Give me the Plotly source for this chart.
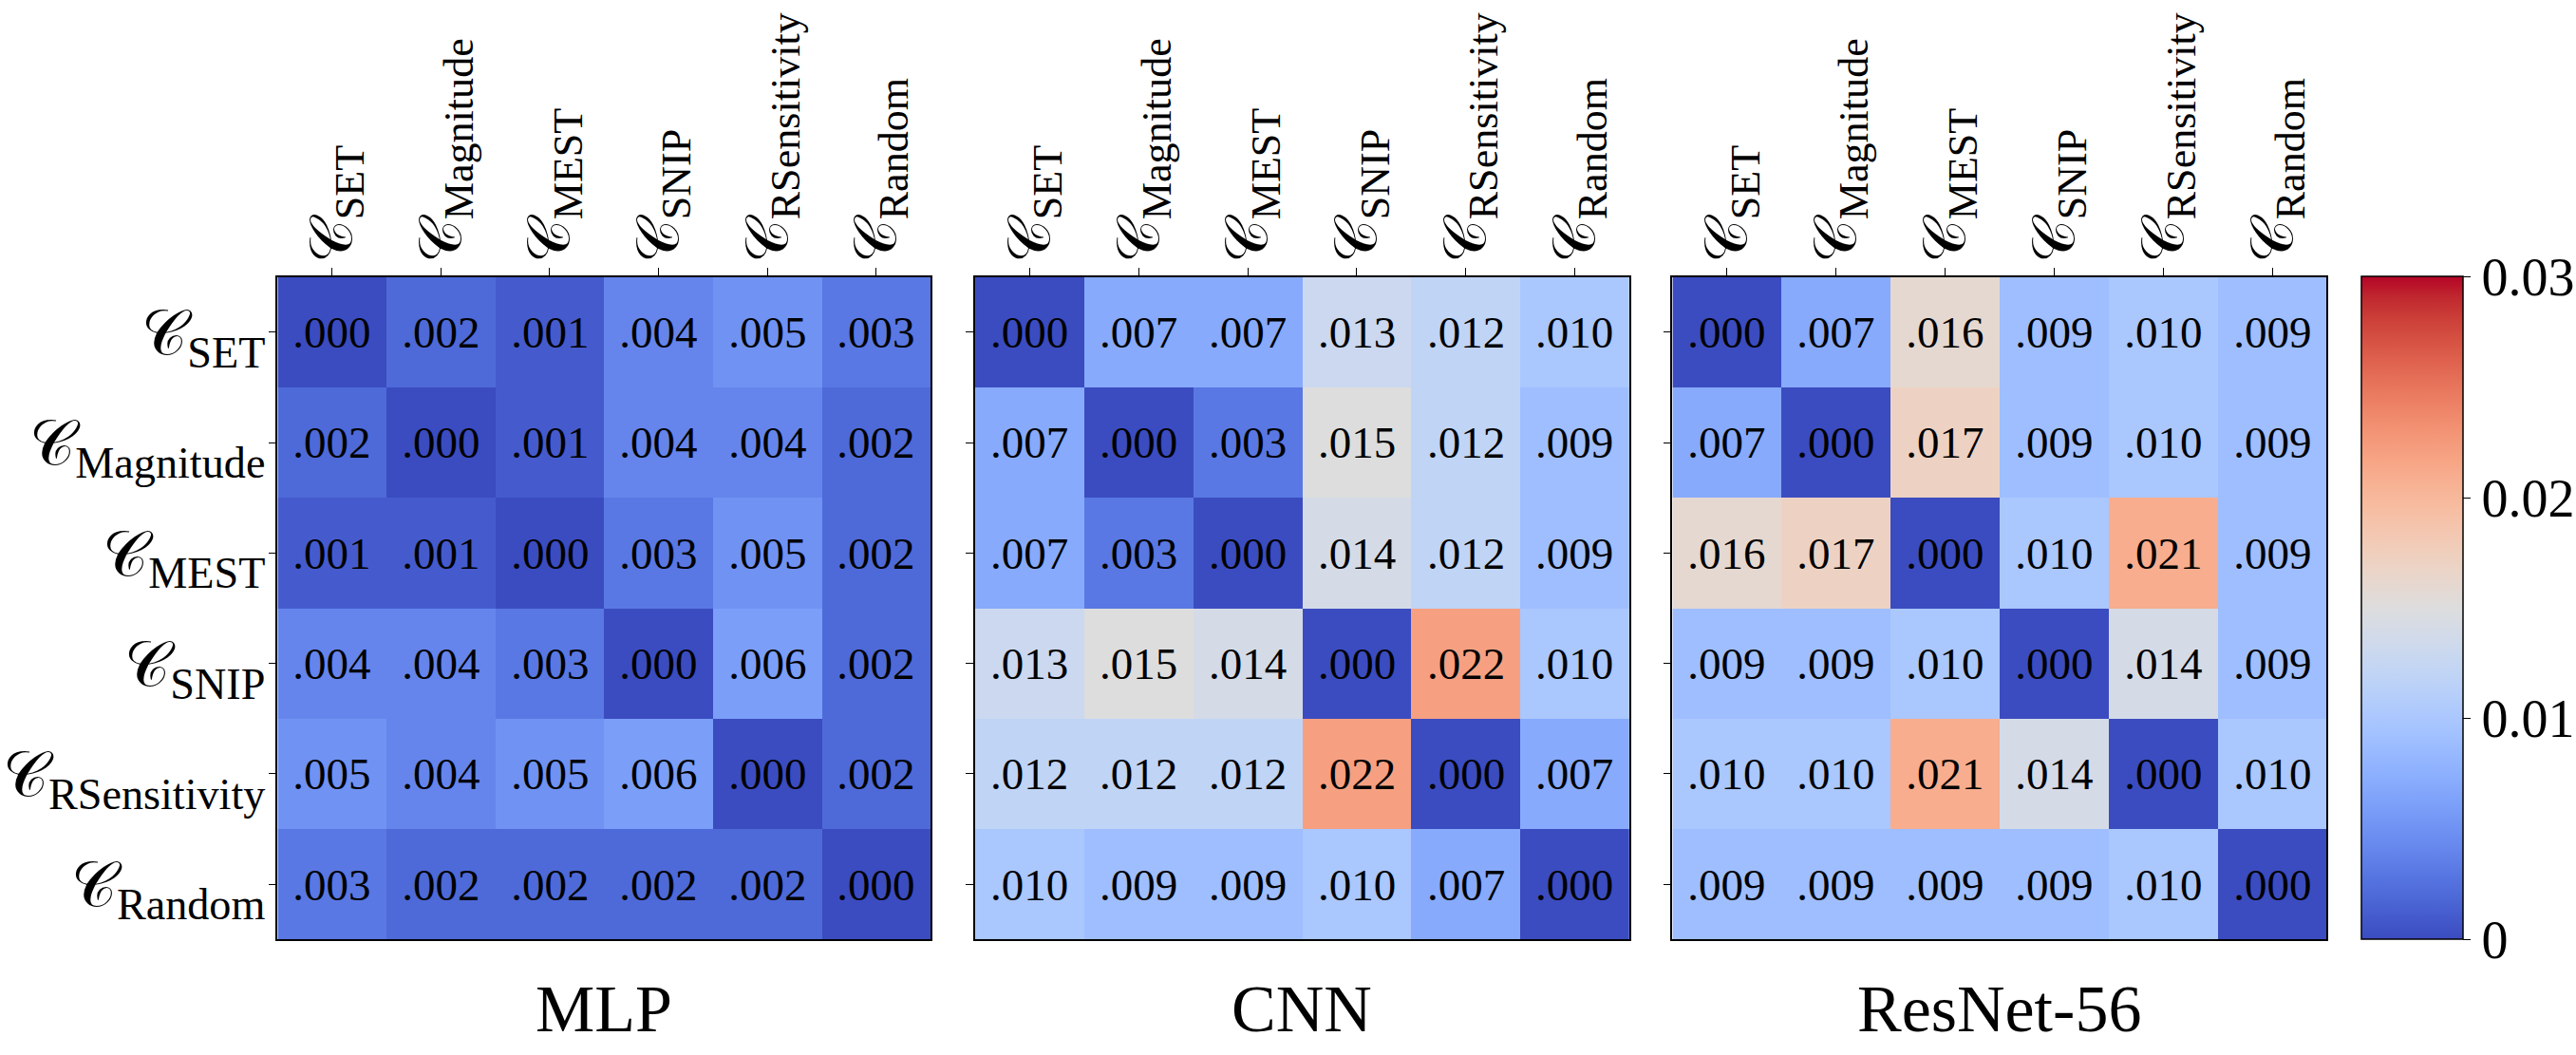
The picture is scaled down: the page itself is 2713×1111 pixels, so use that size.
import plotly.graph_objects as go

# data
methods = ['SET', 'Magnitude', 'MEST', 'SNIP', 'RSensitivity', 'Random']
models = ['MLP', 'CNN', 'ResNet-56']

mlp_dist = [
    [0.000, 0.002, 0.001, 0.004, 0.005, 0.003],
    [0.002, 0.000, 0.001, 0.004, 0.004, 0.002],
    [0.001, 0.001, 0.000, 0.003, 0.005, 0.002],
    [0.004, 0.004, 0.003, 0.000, 0.006, 0.002],
    [0.005, 0.004, 0.005, 0.006, 0.000, 0.002],
    [0.003, 0.002, 0.002, 0.002, 0.002, 0.000],
]
cnn_dist = [
    [0.000, 0.007, 0.007, 0.013, 0.012, 0.010],
    [0.007, 0.000, 0.003, 0.015, 0.012, 0.009],
    [0.007, 0.003, 0.000, 0.014, 0.012, 0.009],
    [0.013, 0.015, 0.014, 0.000, 0.022, 0.010],
    [0.012, 0.012, 0.012, 0.022, 0.000, 0.007],
    [0.010, 0.009, 0.009, 0.010, 0.007, 0.000],
]
resnet_dist = [
    [0.000, 0.007, 0.016, 0.009, 0.010, 0.009],
    [0.007, 0.000, 0.017, 0.009, 0.010, 0.009],
    [0.016, 0.017, 0.000, 0.010, 0.021, 0.009],
    [0.009, 0.009, 0.010, 0.000, 0.014, 0.009],
    [0.010, 0.010, 0.021, 0.014, 0.000, 0.010],
    [0.009, 0.009, 0.009, 0.009, 0.010, 0.000],
]
cbar_ticks = [0, 0.01, 0.02, 0.03]
cbar_labels = ['0', '0.01', '0.02', '0.03']

# matplotlib coolwarm, sampled
coolwarm_rgb = [
    (59, 76, 192), (68, 90, 204), (77, 104, 215), (87, 117, 225), (98, 130, 234),
    (108, 142, 241), (119, 154, 247), (130, 165, 251), (141, 176, 254), (152, 185, 255),
    (163, 194, 255), (174, 201, 253), (184, 208, 249), (194, 213, 244), (204, 217, 238),
    (213, 219, 230), (221, 221, 221), (229, 216, 209), (236, 211, 197), (241, 204, 184),
    (245, 196, 172), (247, 187, 159), (247, 177, 147), (247, 166, 134), (244, 154, 123),
    (241, 141, 111), (236, 127, 99), (229, 112, 88), (222, 96, 77), (213, 80, 66),
    (203, 62, 56), (192, 40, 47), (180, 4, 38),
]
coolwarm = [[i / (len(coolwarm_rgb) - 1), 'rgb(%d,%d,%d)' % c] for i, c in enumerate(coolwarm_rgb)]

FONT = 'Liberation Serif'
labels = ['𝒞<sub><span style="font-family:%s">%s</span></sub>' % (FONT, m) for m in methods]


def fmt(v):
    return ('%.3f' % v).lstrip('0')


x_domains = [[0.1084, 0.3634], [0.3808, 0.6362], [0.6531, 0.9086]]
y_domain = [0.1094, 0.7375]

fig = go.Figure()
for i, (name, z) in enumerate(zip(models, [mlp_dist, cnn_dist, resnet_dist])):
    n = '' if i == 0 else str(i + 1)
    fig.add_trace(go.Heatmap(
        z=z, x=methods, y=methods,
        text=[[fmt(v) for v in row] for row in z],
        texttemplate='%{text}',
        textfont=dict(family=FONT, size=47, color='black'),
        coloraxis='coloraxis',
        xaxis='x' + n, yaxis='y' + n,
        hoverinfo='skip',
    ))
    fig.layout['xaxis' + n] = dict(
        domain=x_domains[i], anchor='y' + n, side='top',
        tickvals=methods, ticktext=labels, tickangle=-90,
        tickfont=dict(family=FONT, size=63, color='black'),
        ticks='outside', ticklen=8, tickcolor='black', ticklabelstandoff=-8,
        showline=True, mirror=True, linecolor='black', linewidth=1.5,
        showgrid=False, zeroline=False, automargin=False,
    )
    fig.layout['yaxis' + n] = dict(
        domain=y_domain, anchor='x' + n, autorange='reversed',
        tickvals=methods, ticktext=labels if i == 0 else [''] * len(methods),
        tickfont=dict(family=FONT, size=66, color='black'),
        ticks='outside', ticklen=8, tickcolor='black', ticklabelstandoff=-10,
        showline=True, mirror=True, linecolor='black', linewidth=1.5,
        showgrid=False, zeroline=False, automargin=False,
    )
    fig.add_annotation(
        text=name, xref='paper', yref='paper',
        x=sum(x_domains[i]) / 2, y=0.044, xanchor='center', yanchor='middle',
        showarrow=False, font=dict(family=FONT, size=70, color='black'),
    )

fig.update_layout(
    width=2713, height=1111,
    margin=dict(l=0, r=0, t=0, b=0),
    paper_bgcolor='white', plot_bgcolor='white',
    coloraxis=dict(
        colorscale=coolwarm, cmin=0, cmax=0.03,
        colorbar=dict(
            x=0.9222, xanchor='left', y=y_domain[0], yanchor='bottom',
            len=y_domain[1] - y_domain[0], lenmode='fraction',
            xpad=0, ypad=0,
            thickness=107, outlinewidth=1.5, outlinecolor='black',
            tickvals=cbar_ticks, ticktext=cbar_labels,
            ticks='outside', ticklen=8, tickcolor='black',
            tickfont=dict(family=FONT, size=56, color='black'),
        ),
    ),
)

fig.write_html('out.html', config={'displayModeBar': False},
               post_script="document.body.style.margin='0';")
